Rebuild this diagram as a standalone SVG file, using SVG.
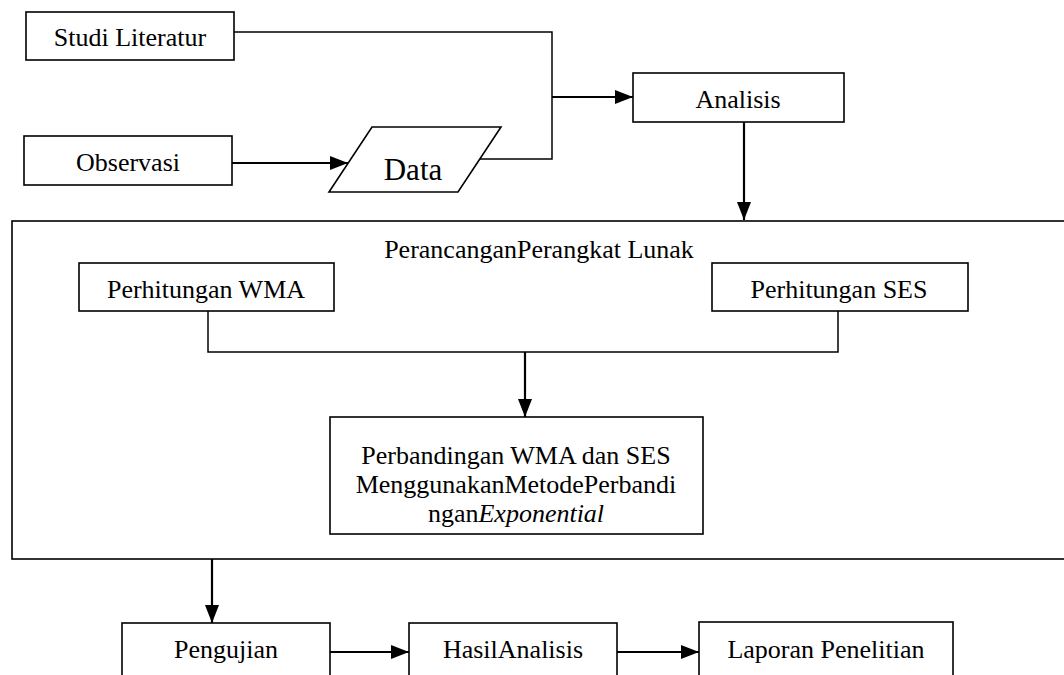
<svg xmlns="http://www.w3.org/2000/svg" width="1064" height="675" viewBox="0 0 1064 675">
<defs>
<style>
.box{fill:#fff;stroke:#000;stroke-width:1.6}
.ln{fill:none;stroke:#000;stroke-width:1.5}
.ar{fill:none;stroke:#000;stroke-width:2.2}
.t{font-size:26px;fill:#000;text-anchor:middle}
.big{font-size:31px}
</style>
<marker id="ah" markerWidth="18" markerHeight="14" viewBox="0 0 18 14" refX="18" refY="7" orient="auto" markerUnits="userSpaceOnUse">
<path d="M0,0 L18,7 L0,14 Z" fill="#000"/>
</marker>
</defs>
<rect width="1064" height="675" fill="#fff"/>
<g font-family="Liberation Serif, Times New Roman, serif">
<g id="studi"><rect class="box" x="26" y="12" width="208" height="48"/><text class="t" x="130" y="46">Studi Literatur</text></g>
<g id="observasi"><rect class="box" x="24" y="136" width="208" height="49"/><text class="t" x="128" y="171">Observasi</text></g>
<g id="data"><polygon class="box" points="372,127 501,127 458,192 329,192"/><text class="t big" x="413" y="180">Data</text></g>
<g id="analisis"><rect class="box" x="633" y="73" width="211" height="49"/><text class="t" x="738" y="108">Analisis</text></g>
<g id="perancangan"><rect class="box" x="12" y="221" width="1060" height="338"/><text class="t" x="539" y="258">PerancanganPerangkat Lunak</text></g>
<g id="wma"><rect class="box" x="79" y="263" width="255" height="48"/><text class="t" x="206" y="298">Perhitungan WMA</text></g>
<g id="ses"><rect class="box" x="712" y="263" width="256" height="48"/><text class="t" x="839" y="298">Perhitungan SES</text></g>
<g id="perbandingan"><rect class="box" x="330" y="417" width="373" height="117"/>
<text class="t" x="516" y="464">Perbandingan WMA dan SES</text>
<text class="t" x="516" y="493">MenggunakanMetodePerbandi</text>
<text class="t" x="516" y="522">ngan<tspan font-style="italic">Exponential</tspan></text></g>
<g id="pengujian"><rect class="box" x="122" y="623" width="208" height="70"/><text class="t" x="226" y="658">Pengujian</text></g>
<g id="hasil"><rect class="box" x="409" y="623" width="208" height="70"/><text class="t" x="513" y="658">HasilAnalisis</text></g>
<g id="laporan"><rect class="box" x="699" y="622" width="254" height="70"/><text class="t" x="826" y="658">Laporan Penelitian</text></g>
</g>
<g id="connectors">
<polyline class="ln" points="234,32 552,32 552,159 480,159"/>
<line class="ar" x1="232" y1="163" x2="348" y2="163" marker-end="url(#ah)"/>
<line class="ar" x1="552" y1="97" x2="633" y2="97" marker-end="url(#ah)"/>
<line class="ar" x1="744" y1="122" x2="744" y2="220" marker-end="url(#ah)"/>
<polyline class="ln" points="208,311 208,352 838,352 838,311"/>
<line class="ar" x1="525" y1="352" x2="525" y2="417" marker-end="url(#ah)"/>
<line class="ar" x1="212" y1="559" x2="212" y2="623" marker-end="url(#ah)"/>
<line class="ar" x1="330" y1="652" x2="409" y2="652" marker-end="url(#ah)"/>
<line class="ar" x1="617" y1="652" x2="699" y2="652" marker-end="url(#ah)"/>
</g>
</svg>
